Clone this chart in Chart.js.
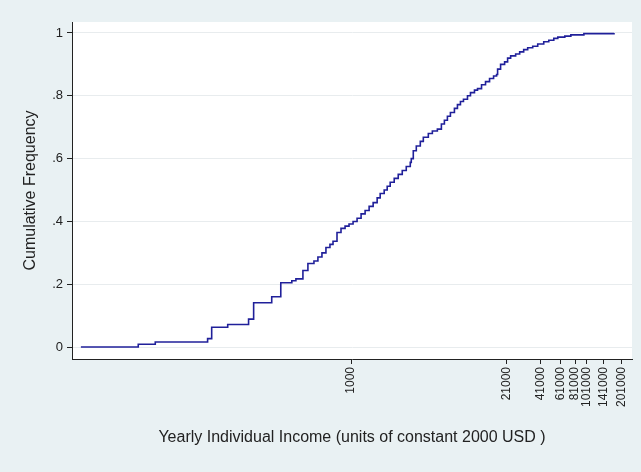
<!DOCTYPE html>
<html>
<head>
<meta charset="utf-8">
<script src="https://cdn.jsdelivr.net/npm/chart.js@4"></script>
<style>
  html, body { margin: 0; padding: 0; background: #e9f1f3; }
  canvas { display: block; }
</style>
</head>
<body>
<canvas id="cdfChart" width="641" height="472"></canvas>
<script>
// ===== Data =====
const incomeSteps = [5, 15.4, 21.5, 60, 65, 89, 134, 148, 211, 252,
  313, 339, 389, 429, 483, 522, 565, 611, 661, 702,
  759, 821, 889, 961, 1040, 1125, 1217, 1317, 1425, 1542,
  1668, 1770, 1915, 2031, 2154, 2331, 2522, 2729, 2952, 3194,
  3257, 3388, 3594, 3888, 4125, 4550, 4924, 5433, 5878, 6236,
  6614, 7017, 7591, 8054, 8543, 9063, 9806, 10400, 11250, 11940,
  12920, 13970, 15120, 16360, 17350, 17700, 18770, 20310, 21540, 22860,
  25220, 27290, 29520, 31940, 35240, 38880, 43750, 48290, 53280, 57660,
  66140, 74450, 96140, 173500];

const cumFreq = [0, .009, .016, .027, .063, .072, .089, .141, .160, .205,
  .211, .217, .244, .266, .274, .287, .300, .317, .327, .337,
  .365, .378, .385, .392, .400, .410, .424, .435, .448, .460,
  .475, .489, .500, .512, .525, .537, .550, .562, .575, .588,
  .600, .625, .640, .655, .668, .680, .688, .694, .710, .722,
  .735, .747, .760, .772, .782, .789, .800, .810, .818, .823,
  .835, .845, .855, .863, .868, .885, .900, .908, .920, .927,
  .933, .940, .947, .953, .958, .965, .972, .977, .983, .987,
  .990, .994, .998, 1.0];

const xTickValues = [1000, 21000, 41000, 61000, 81000, 101000, 141000, 201000];
const yTickValues = [0, 0.2, 0.4, 0.6, 0.8, 1];
const yTickLabels = ['0', '.2', '.4', '.6', '.8', '1'];

const xTitle = 'Yearly Individual Income (units of constant 2000 USD )';
const yTitle = 'Cumulative Frequency';

// white plot region on the bluish-gray graph region
const plotBg = {
  id: 'plotBg',
  beforeDraw(chart) {
    const { ctx, chartArea: a } = chart;
    ctx.save();
    ctx.fillStyle = '#ffffff';
    ctx.fillRect(a.left, a.top, a.right - a.left, a.bottom - a.top);
    ctx.restore();
  }
};

const axisColor = '#222222';
const fontFamily = 'Liberation Sans, Arial, sans-serif';

new Chart(document.getElementById('cdfChart').getContext('2d'), {
  type: 'line',
  data: {
    datasets: [{
      data: incomeSteps.map((v, i) => ({ x: v, y: cumFreq[i] })),
      borderColor: '#20209a',
      borderWidth: 1.6,
      pointRadius: 0,
      stepped: true,
      fill: false
    }]
  },
  options: {
    responsive: false,
    animation: false,
    devicePixelRatio: 1,
    layout: { padding: { left: 21, top: 22, right: 9, bottom: 25 } },
    plugins: { legend: { display: false }, tooltip: { enabled: false } },
    scales: {
      x: {
        type: 'logarithmic',
        min: 4.2,
        max: 247000,
        afterBuildTicks: scale => { scale.ticks = xTickValues.map(v => ({ value: v })); },
        afterFit: scale => { scale.height = 88; },
        ticks: {
          autoSkip: false,
          minRotation: 90,
          maxRotation: 90,
          padding: 3,
          color: axisColor,
          font: { family: fontFamily, size: 12 },
          callback: v => String(v)
        },
        grid: { drawOnChartArea: false, drawTicks: true, tickLength: 5, tickColor: axisColor },
        border: { display: true, color: axisColor, width: 1 },
        title: { display: true, text: xTitle, color: axisColor, padding: 0,
                 font: { family: fontFamily, size: 16 } }
      },
      y: {
        min: -0.038,
        max: 1.035,
        afterBuildTicks: scale => { scale.ticks = yTickValues.map(v => ({ value: v })); },
        afterFit: scale => { scale.width = 51; },
        ticks: {
          padding: 4,
          color: axisColor,
          font: { family: fontFamily, size: 13 },
          callback: (v, i) => yTickLabels[i]
        },
        grid: { color: '#e8ecee', lineWidth: 1, drawTicks: true, tickLength: 5, tickColor: axisColor },
        border: { display: true, color: axisColor, width: 1 },
        title: { display: true, text: yTitle, color: axisColor, padding: 0,
                 font: { family: fontFamily, size: 16 } }
      }
    }
  },
  plugins: [plotBg]
});
</script>
</body>
</html>
